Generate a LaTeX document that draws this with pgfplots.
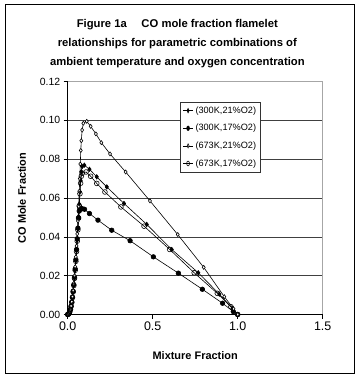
\documentclass[border=0pt]{standalone}
\usepackage{fontspec}
\setmainfont{Liberation Sans}
\usepackage{pgfplots}
\pgfplotsset{compat=1.18}
\begin{document}
\begin{tikzpicture}[x=1bp,y=1bp]
\useasboundingbox (-67.7bp,-59.5bp) rectangle (287.3bp,314.5bp);
\draw[line width=0.8bp] (-62.7bp,-59.2bp) rectangle (286.3bp,310.5bp);
\begin{axis}[
  at={(0,0)}, anchor=south west,
  scale only axis, width=255bp, height=233bp,
  xmin=0, xmax=1.5, ymin=0, ymax=0.12,
  xtick={0,0.5,1,1.5}, ytick={0,0.02,...,0.12},
  xticklabel style={font=\fontsize{12.5}{14}\selectfont, /pgf/number format/.cd,fixed,fixed zerofill,precision=1},
  yticklabel style={font=\fontsize{10.5}{12}\selectfont, /pgf/number format/.cd,fixed,fixed zerofill,precision=2},
  /pgf/number format/assume math mode=true,
  scaled y ticks=false,
  ymajorgrids, grid style={black!75, line width=0.6bp},
  axis line style={gray!70, line width=0.7bp},
  tick style={black, line width=0.6bp},
  tick align=outside, major tick length=4bp,
  xtick pos=bottom, ytick pos=left,
  xlabel={\textbf{Mixture Fraction}},
  ylabel={\textbf{CO Mole Fraction}},
  label style={font=\fontsize{11}{13}\selectfont},
  xlabel style={at={(axis description cs:0.5,0)}, anchor=center, yshift=-41.5bp},
  ylabel style={at={(axis description cs:-0.179,0.5)}, anchor=center},
  title={\textbf{Figure 1a\hspace{1.3em}CO mole fraction flamelet}\\\textbf{relationships for parametric combinations of}\\\textbf{ambient temperature and oxygen concentration}},
  title style={font=\fontsize{11.3}{19.5}\selectfont, align=center, inner sep=0pt, at={(axis description cs:0.43,1)}, anchor=south, yshift=7bp},
  legend style={at={(axis description cs:0.44,0.913)}, anchor=north west,
    font=\fontsize{9.2}{10}\selectfont, draw=black!80, line width=0.6bp,
    row sep=5.5bp, inner sep=2.5bp, cells={anchor=west}},
  legend image post style={xscale=0.6},
  every axis plot/.append style={line width=0.6bp, black},
  clip=false,
]
\addplot[mark=diamond*, mark size=2.2bp, mark options={fill=black}] coordinates {
(0,0)(0.004,0.0002)(0.008,0.0006)(0.012,0.0014)(0.016,0.0026)(0.02,0.0042)(0.024,0.0063)(0.028,0.0088)(0.032,0.0117)(0.036,0.015)(0.04,0.0188)(0.044,0.023)(0.048,0.0277)(0.052,0.0328)(0.056,0.0383)(0.06,0.0442)(0.064,0.0504)(0.068,0.0568)(0.072,0.0632)(0.076,0.069)(0.08,0.0735)(0.085,0.0762)(0.098,0.0769)(0.128,0.0748)(0.171,0.0709)(0.23,0.0657)(0.331,0.0572)(0.465,0.0464)(0.612,0.0335)(0.768,0.0215)(0.892,0.0105)(0.97,0.003)(1.0,0)};
\addlegendentry{(300K,21\%O2)}
\addplot[mark=*, mark size=2.3bp, mark options={fill=black}] coordinates {
(0,0)(0.004,0.0002)(0.008,0.0006)(0.012,0.0014)(0.016,0.0026)(0.02,0.0043)(0.024,0.0064)(0.028,0.009)(0.032,0.012)(0.036,0.0154)(0.04,0.0192)(0.044,0.0235)(0.048,0.0283)(0.052,0.0335)(0.056,0.039)(0.06,0.0445)(0.064,0.0497)(0.068,0.0533)(0.072,0.0546)(0.085,0.0545)(0.099,0.0542)(0.128,0.052)(0.178,0.0486)(0.259,0.0434)(0.367,0.038)(0.504,0.0297)(0.651,0.0213)(0.792,0.013)(0.911,0.0058)(0.974,0.0015)(1.0,0)};
\addlegendentry{(300K,17\%O2)}
\addplot[mark=diamond*, mark size=2.0bp, mark options={fill=white}] coordinates {
(0,0)(0.004,0.0002)(0.008,0.0006)(0.012,0.0014)(0.016,0.0027)(0.02,0.0044)(0.024,0.0066)(0.028,0.0093)(0.032,0.0124)(0.036,0.016)(0.04,0.02)(0.044,0.0246)(0.048,0.0297)(0.052,0.0353)(0.056,0.0415)(0.06,0.0482)(0.064,0.0555)(0.068,0.0635)(0.071,0.07)(0.074,0.0775)(0.077,0.0845)(0.08,0.0895)(0.085,0.095)(0.092,0.0985)(0.112,0.0995)(0.135,0.0969)(0.166,0.093)(0.198,0.0885)(0.249,0.0827)(0.341,0.0734)(0.484,0.0585)(0.647,0.0412)(0.8,0.0243)(0.921,0.0092)(0.975,0.003)(1.0,0)};
\addlegendentry{(673K,21\%O2)}
\addplot[mark=o, mark size=2.4bp, mark options={fill=white}] coordinates {
(0,0)(0.004,0.0002)(0.008,0.0006)(0.012,0.0014)(0.016,0.0026)(0.02,0.0042)(0.024,0.0062)(0.028,0.0087)(0.032,0.0116)(0.036,0.0149)(0.04,0.0186)(0.044,0.0228)(0.048,0.0274)(0.052,0.0324)(0.056,0.0378)(0.06,0.0436)(0.064,0.0497)(0.068,0.056)(0.072,0.0622)(0.076,0.0676)(0.08,0.0712)(0.086,0.0728)(0.108,0.0734)(0.135,0.0712)(0.171,0.0675)(0.219,0.0631)(0.313,0.0554)(0.449,0.0455)(0.6,0.0335)(0.744,0.0215)(0.88,0.0109)(0.96,0.004)(1.0,0)};
\addlegendentry{(673K,17\%O2)}
\draw[black, line width=0.8bp] (axis cs:0,0) -- (axis cs:0,0.12);
\draw[black, line width=0.8bp] (axis cs:0,0) -- (axis cs:1.5,0);
\end{axis}
\end{tikzpicture}
\end{document}
